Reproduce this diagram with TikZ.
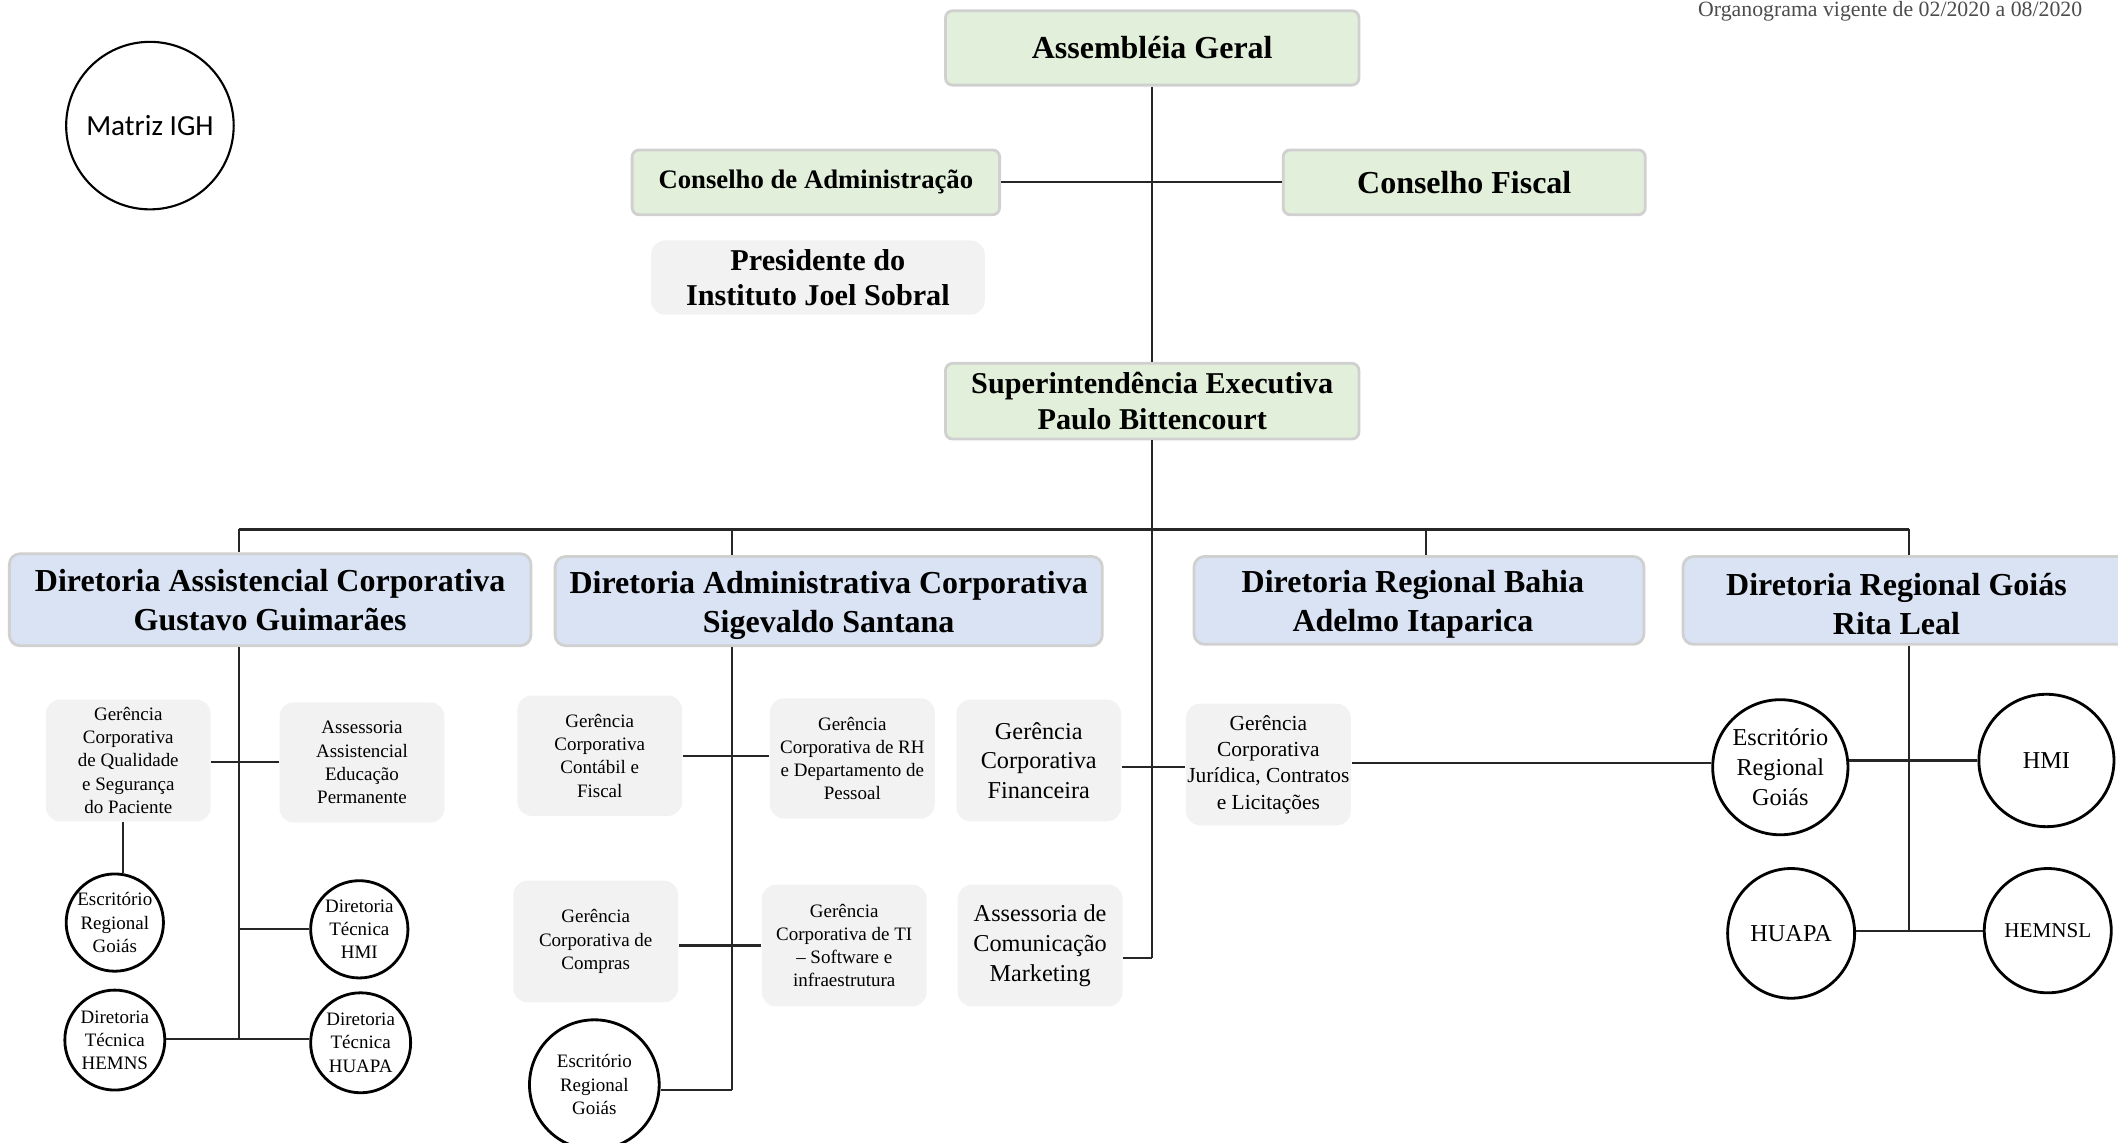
\documentclass[tikz,border=0pt]{standalone}
\usepackage{fontspec}
\setmainfont{Liberation Serif}
\newfontfamily\carl{Carlito}
\usetikzlibrary{shapes.geometric,calc}
\definecolor{gfill}{HTML}{E2EFDA}
\definecolor{bfill}{HTML}{DAE3F3}
\definecolor{lgray}{HTML}{F2F2F2}
\definecolor{bord}{HTML}{D0D0D0}
\def\U{0.3843pt}
\newcommand\fsz[2]{\fontsize{#1}{#2}\selectfont}
\tikzset{
  sz/.style 2 args={minimum width=#1*\U, minimum height=#2*\U},
  greenbox/.style={rectangle, rounded corners=2pt, draw=bord, line width=0.8pt, fill=gfill, inner sep=0pt, align=center},
  bluebox/.style={rectangle, rounded corners=3pt, draw=bord, line width=0.8pt, fill=bfill, inner sep=0pt, align=center},
  graybox/.style={rectangle, rounded corners=4pt, fill=lgray, inner sep=0pt, align=center},
  circ/.style={circle, draw, line width=0.8pt, inner sep=0pt, align=center},
  ell/.style={ellipse, draw, line width=0.8pt, inner sep=0pt, align=center},
  conn/.style={draw=black!85, line width=0.6pt},
  big/.style={font=\bfseries\fsz{9.1}{11.1}},
  small/.style={font=\fsz{5.4}{6.6}},
  mid/.style={font=\fsz{6.9}{8.45}},
}
\begin{document}
\begin{tikzpicture}[x=0.013508cm, y=-0.013508cm]
\useasboundingbox (0,0) rectangle (1568,846);
\clip (0,0) rectangle (1568,846);

% title
\node[anchor=base east, font=\fsz{6.2}{7}, text=black!70, inner sep=0pt] (title) at (1542,12) {Organograma vigente de 02/2020 a 08/2020};

% Matriz
\node[circ, line width=0.6pt, minimum size=124*\U, font=\carl\fsz{8.3}{10}] (matriz) at (111,93) {Matriz IGH};

% top
\node[greenbox, sz={306}{55}, big] (ag) at (853,35.5) {Assembléia Geral};
\node[greenbox, sz={272}{48}, font=\bfseries\fsz{7.6}{9}] (ca) at (604,135) {Conselho de Administração};
\node[greenbox, sz={268}{48}, big] (cf) at (1084,135) {Conselho Fiscal};
\node[graybox, sz={247}{55}, font=\bfseries\fsz{8.6}{10}] (pres) at (605.5,205.5) {Presidente do\\Instituto Joel Sobral};
\node[greenbox, sz={306}{56}, font=\bfseries\fsz{8.6}{10.4}] (sup) at (853,297) {Superintendência Executiva\\Paulo Bittencourt};

% directorates
\node[bluebox, sz={386}{68}, big] (dac) at (200,444) {Diretoria Assistencial Corporativa\\Gustavo Guimarães};
\node[bluebox, sz={405}{66}, big] (dadm) at (613.5,445) {};
\node[big, align=center, inner sep=0pt] (dadmt) at (613.5,448) {Diretoria Administrativa Corporativa\\Sigevaldo Santana};
\node[bluebox, sz={333}{65}, big] (drb) at (1050.5,444.5) {};
\node[big, align=center, inner sep=0pt] (drbt) at (1046,447.5) {Diretoria Regional Bahia\\Adelmo Itaparica};
\node[bluebox, sz={340}{65}] (drg) at (1416,444.5) {};
\node[big, align=center, inner sep=0pt] (drgt) at (1404,447) {Diretoria Regional Goiás\\Rita Leal};

% assistencial children
\node[graybox, sz={122}{90}, small] (gq) at (95,563) {Gerência\\Corporativa\\de Qualidade\\e Segurança\\do Paciente};
\node[graybox, sz={122}{89}, small] (aa) at (268,564.5) {Assessoria\\Assistencial\\Educação\\Permanente};
\node[circ, minimum size=72*\U, small] (erg1) at (85,683) {Escritório\\Regional\\Goiás};
\node[circ, minimum size=72*\U, small] (dthmi) at (266,688) {Diretoria\\Técnica\\HMI};
\node[circ, minimum size=74*\U, small] (dthemns) at (85,770) {Diretoria\\Técnica\\HEMNS};
\node[circ, minimum size=74*\U, small] (dthuapa) at (267,772) {Diretoria\\Técnica\\HUAPA};

% administrativa children
\node[graybox, sz={122}{89}, small] (gc) at (444,559.5) {Gerência\\Corporativa\\Contábil e\\Fiscal};
\node[graybox, sz={122}{89}, small] (grh) at (631,561.5) {Gerência\\Corporativa de RH\\e Departamento de\\Pessoal};
\node[graybox, sz={122}{90}, mid] (gf) at (769,563) {Gerência\\Corporativa\\Financeira};
\node[graybox, sz={122}{90}, small] (gcomp) at (441,697) {Gerência\\Corporativa de\\Compras};
\node[graybox, sz={122}{90}, small] (gti) at (625,700) {Gerência\\Corporativa de TI\\– Software e\\infraestrutura};
\node[graybox, sz={122}{90}, mid] (acm) at (770,700) {Assessoria de\\Comunicação\\Marketing};
\node[circ, minimum size=96*\U, small] (erg2) at (440,803) {Escritório\\Regional\\Goiás};
\node[graybox, sz={122}{90}, font=\fsz{6.1}{7.5}] (gj) at (939,566) {Gerência\\Corporativa\\Jurídica, Contratos\\e Licitações};

% regional goias children
\node[ell, minimum width=94*\U, minimum height=100*\U, mid] (erg3) at (1318,568) {Escritório\\Regional\\Goiás};
\node[ell, minimum width=100*\U, minimum height=98*\U, mid] (hmi) at (1515,563) {HMI};
\node[ell, minimum width=94*\U, minimum height=96*\U, mid] (huapa) at (1326,691) {HUAPA};
\node[ell, minimum width=94*\U, minimum height=92*\U, font=\fsz{6}{7}] (hemnsl) at (1516,689) {HEMNSL};

% coordinates
\coordinate (bus1) at (177,392);
\coordinate (bus2) at (542,392);
\coordinate (bus3) at (1056,392);
\coordinate (bus4) at (1413,392);
\coordinate (trunkend) at (853,709);
\coordinate (t1end) at (177,769);
\coordinate (t2end) at (542,807);
\coordinate (t3end) at (1413,689);

% connectors
\draw[conn] (ag.south) -- (sup.north);
\draw[conn] (ca.east) -- (cf.west);
\draw[conn] (sup.south) -- (trunkend);
\draw[conn] (bus1) -- (bus4);
\draw[conn] (bus1) -- (bus1 |- dac.north);
\draw[conn] (bus2) -- (bus2 |- dadm.north);
\draw[conn] (bus3) -- (bus3 |- drb.north);
\draw[conn] (bus4) -- (bus4 |- drg.north);
% assistencial
\draw[conn] (bus1 |- dac.south) -- (t1end);
\draw[conn] (gq.east |- 0,564) -- (aa.west |- 0,564);
\draw[conn] (91,0 |- gq.south) -- (91,0 |- erg1.north);
\draw[conn] (177,0 |- dthmi.west) -- (dthmi.west);
\draw[conn] (dthemns.east |- t1end) -- (dthuapa.west |- t1end);
% administrativa
\draw[conn] (bus2 |- dadm.south) -- (t2end);
\draw[conn] (gc.east) -- (grh.west |- gc.east);
\draw[conn] (gcomp.east |- 0,700) -- (gti.west);
\draw[conn] (erg2.east |- t2end) -- (t2end);
\draw[conn] (gf.east |- 0,568) -- (gj.west |- 0,568);
\draw[conn] (acm.east |- trunkend) -- (trunkend);
\draw[conn] (gj.east |- 0,565) -- (erg3.west |- 0,565);
% regional goias
\draw[conn] (bus4 |- drg.south) -- (t3end);
\draw[conn] (erg3.east |- hmi.west) -- (hmi.west);
\draw[conn] (huapa.east |- t3end) -- (hemnsl.west |- t3end);
\end{tikzpicture}
\end{document}
